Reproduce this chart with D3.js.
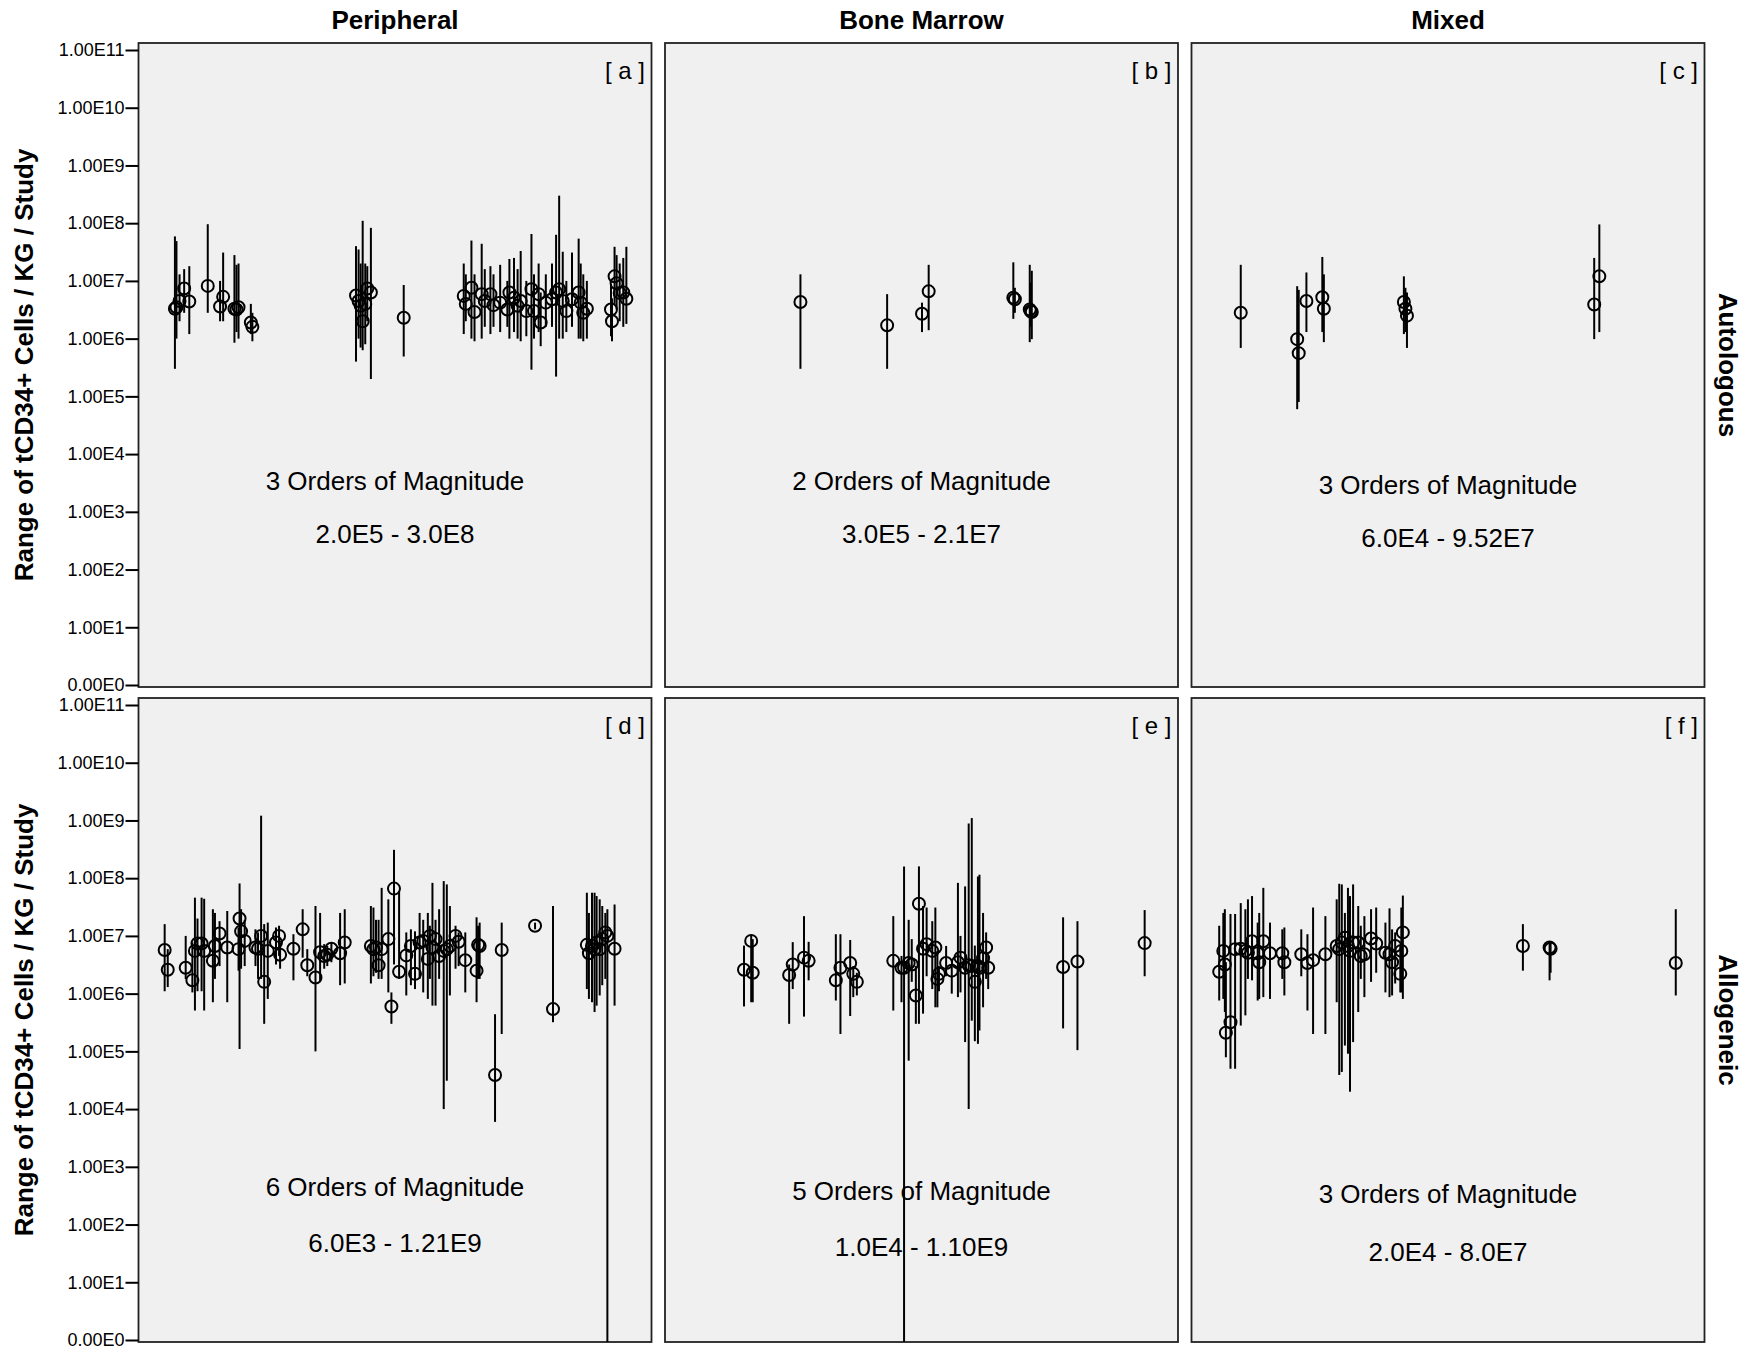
<!DOCTYPE html>
<html>
<head>
<meta charset="utf-8">
<title>Range of tCD34+ cells per kg per study</title>
<script src="https://cdn.jsdelivr.net/npm/d3@7"></script>
<style>
  body { margin: 0; background: #fff; }
  text { font-family: "Liberation Sans", Arial, sans-serif; fill: #000; }
</style>
</head>
<body>
<svg id="chart"></svg>
<script>
// graft source (columns) and transplant type (rows)
const sources = ['Peripheral', 'Bone Marrow', 'Mixed'];
const transplants = ['Autologous', 'Allogeneic'];
const panelTags = ['[ a ]', '[ b ]', '[ c ]', '[ d ]', '[ e ]', '[ f ]'];
const magnitudeNotes = ['3 Orders of Magnitude', '2 Orders of Magnitude', '3 Orders of Magnitude',
  '6 Orders of Magnitude', '5 Orders of Magnitude', '3 Orders of Magnitude'];
const rangeNotes = ['2.0E5 - 3.0E8', '3.0E5 - 2.1E7', '6.0E4 - 9.52E7',
  '6.0E3 - 1.21E9', '1.0E4 - 1.10E9', '2.0E4 - 8.0E7'];
const yTickValues = [1, 1e1, 1e2, 1e3, 1e4, 1e5, 1e6, 1e7, 1e8, 1e9, 1e10, 1e11];
const yTickLabels = ['0.00E0', '1.00E1', '1.00E2', '1.00E3', '1.00E4', '1.00E5',
  '1.00E6', '1.00E7', '1.00E8', '1.00E9', '1.00E10', '1.00E11'];

// each study: [position along panel (0-100), reported dose, minimum, maximum]
const studiesA = [
  [7.1, 3.3e6, 3.0e5, 5.9e7], [7.4, 3.5e6, 1.0e6, 4.9e7], [8.0, 4.5e6, 2.0e6, 1.3e7],
  [8.9, 7.4e6, 2.8e6, 1.6e7], [9.9, 4.4e6, 1.2e6, 1.8e7], [13.5, 8.2e6, 2.8e6, 9.6e7],
  [15.9, 3.6e6, 2.0e6, 1.0e7], [16.5, 5.3e6, 2.0e6, 3.1e7], [18.7, 3.3e6, 8.5e5, 2.8e7],
  [19.1, 3.2e6, 1.3e6, 1.9e7], [19.5, 3.5e6, 1.0e6, 2.0e7], [21.9, 1.9e6, 1.2e6, 4.0e6],
  [22.2, 1.6e6, 9.0e5, 2.8e6], [42.4, 5.6e6, 4.0e5, 4.0e7], [42.9, 4.5e6, 1.0e6, 3.5e7],
  [43.3, 3.7e6, 7.0e5, 2.0e7], [43.7, 2.0e6, 6.3e5, 1.1e8], [44.2, 4.0e6, 8.0e5, 2.0e7],
  [44.6, 7.4e6, 2.0e6, 1.8e7], [45.3, 6.3e6, 2.0e5, 8.3e7], [51.7, 2.3e6, 4.9e5, 8.5e6],
  [63.4, 5.5e6, 1.2e6, 2.0e7], [63.8, 4.0e6, 2.0e6, 1.3e7], [64.9, 7.6e6, 1.0e6, 5.0e7],
  [65.5, 2.9e6, 9.0e5, 1.3e7], [66.9, 5.9e6, 1.0e6, 4.4e7], [67.5, 4.5e6, 1.6e6, 1.6e7],
  [68.6, 5.9e6, 1.2e6, 1.8e7], [69.2, 3.8e6, 1.6e6, 1.3e7], [70.5, 4.2e6, 1.3e6, 1.9e7],
  [71.9, 3.2e6, 1.6e6, 1.0e7], [72.3, 6.3e6, 1.0e6, 2.4e7], [73.2, 5.1e6, 1.3e6, 2.5e7],
  [73.9, 3.7e6, 1.0e6, 1.6e7], [74.5, 4.5e6, 9.0e5, 3.3e7], [75.6, 3.0e6, 1.1e6, 1.0e7],
  [76.6, 7.2e6, 2.9e5, 6.5e7], [77.1, 3.0e6, 1.0e6, 1.3e7], [78.0, 5.9e6, 1.3e6, 2.0e7],
  [78.4, 1.9e6, 7.4e5, 6.3e6], [79.4, 4.2e6, 1.6e6, 1.3e7], [80.6, 4.8e6, 1.6e6, 2.0e7],
  [81.4, 6.3e6, 2.2e5, 6.3e7], [82.0, 7.2e6, 1.0e6, 3.0e8], [82.7, 4.5e6, 1.0e6, 3.2e7],
  [83.4, 3.0e6, 1.3e6, 1.0e7], [84.5, 4.8e6, 1.6e6, 3.1e7], [85.8, 6.3e6, 1.0e6, 5.4e7],
  [86.2, 4.2e6, 1.0e6, 2.0e7], [86.7, 2.8e6, 9.0e5, 1.3e7], [87.4, 3.3e6, 1.0e6, 1.0e7],
  [92.1, 3.2e6, 1.1e6, 8.9e6], [92.3, 2.0e6, 9.0e5, 5.0e6], [92.8, 1.2e7, 4.0e6, 3.9e7],
  [93.2, 9.1e6, 3.2e6, 2.8e7], [93.8, 6.2e6, 2.0e6, 2.0e7], [94.5, 6.3e6, 1.6e6, 2.5e7],
  [95.1, 4.9e6, 1.8e6, 3.9e7]
];
const studiesB = [
  [26.4, 4.3e6, 3.0e5, 1.3e7], [43.3, 1.7e6, 3.0e5, 5.9e6], [50.1, 2.7e6, 1.3e6, 4.2e6],
  [51.4, 6.6e6, 1.4e6, 1.9e7], [67.9, 5.1e6, 2.2e6, 2.1e7], [68.2, 4.8e6, 2.8e6, 7.6e6],
  [71.1, 3.2e6, 8.7e5, 1.9e7], [71.5, 2.9e6, 9.8e5, 1.5e7], [71.3, 3.0e6, 1.6e6, 9.3e6]
];
const studiesC = [
  [9.6, 2.8e6, 6.9e5, 1.9e7], [20.6, 9.8e5, 6.0e4, 8.1e6], [20.9, 5.6e5, 8.0e4, 7.0e6],
  [22.4, 4.5e6, 1.3e6, 1.4e7], [25.5, 5.2e6, 1.3e6, 2.6e7], [25.8, 3.3e6, 8.7e5, 1.3e7],
  [41.4, 4.3e6, 1.2e6, 1.2e7], [41.7, 3.3e6, 1.3e6, 7.6e6], [42.0, 2.5e6, 6.9e5, 6.3e6],
  [78.5, 3.9e6, 9.8e5, 2.5e7], [79.5, 1.2e7, 1.3e6, 9.52e7]
];
const studiesD = [
  [5.1, 5.7e6, 1.1e6, 1.6e7], [5.7, 2.6e6, 1.3e6, 5.9e6], [9.2, 2.8e6, 1.8e6, 1.0e7],
  [10.5, 1.7e6, 1.05e6, 7.7e6], [11.0, 5.5e6, 5.1e5, 4.6e7], [11.5, 7.4e6, 1.1e6, 2.0e7],
  [12.3, 7.4e6, 1.1e6, 4.6e7], [12.8, 5.5e6, 5.1e5, 4.4e7], [14.5, 3.7e6, 7.1e5, 2.9e7],
  [14.9, 6.7e6, 1.8e6, 2.5e7], [15.8, 1.1e7, 3.0e6, 1.8e7], [17.3, 6.3e6, 7.1e5, 2.7e7],
  [19.7, 2.0e7, 1.1e5, 8.1e7], [20.0, 1.2e7, 2.7e6, 2.9e7], [20.7, 8.2e6, 3.0e6, 1.9e7],
  [19.5, 5.9e6, 2.5e6, 1.4e7], [22.8, 6.3e6, 3.0e6, 1.3e7], [23.3, 6.0e6, 1.8e6, 1.15e7],
  [23.9, 1.0e7, 1.8e6, 1.21e9], [24.5, 1.6e6, 3.0e5, 1.6e7], [25.2, 5.5e6, 8.1e5, 1.7e7],
  [26.8, 7.7e6, 3.2e6, 1.4e7], [27.4, 1.0e7, 4.5e6, 1.5e7], [27.6, 4.7e6, 2.7e6, 7.7e6],
  [30.2, 6.0e6, 1.7e6, 1.07e7], [32.0, 1.3e7, 4.2e6, 2.9e7], [32.9, 3.1e6, 2.0e6, 5.9e6],
  [34.5, 1.9e6, 1.0e5, 3.3e7], [35.4, 5.2e6, 1.6e6, 2.5e7], [36.2, 4.5e6, 2.7e6, 7.2e6],
  [36.8, 4.7e6, 3.0e6, 6.7e6], [37.6, 6.0e6, 3.5e6, 7.7e6], [39.3, 5.0e6, 1.4e6, 2.5e7],
  [40.2, 7.7e6, 1.5e6, 2.9e7], [45.3, 6.7e6, 1.5e6, 3.3e7], [45.8, 5.9e6, 2.0e6, 3.1e7],
  [46.3, 6.3e6, 2.3e6, 1.9e7], [46.8, 3.1e6, 1.8e6, 1.9e7], [47.4, 5.9e6, 1.8e6, 6.8e7],
  [48.7, 8.8e6, 1.05e6, 4.3e7], [49.3, 6.0e5, 3.0e5, 1.05e6], [49.8, 6.6e7, 3.2e6, 3.1e8],
  [50.8, 2.4e6, 1.8e6, 6.0e7], [52.2, 4.6e6, 9.3e5, 1.15e7], [53.1, 6.7e6, 1.4e6, 1.3e7],
  [53.9, 2.2e6, 1.2e6, 1.2e7], [54.8, 7.7e6, 1.8e6, 2.5e7], [55.5, 8.2e6, 1.05e6, 1.9e7],
  [56.4, 4.0e6, 8.1e5, 2.5e7], [56.8, 1.0e7, 1.8e6, 1.5e7], [57.3, 6.3e6, 6.2e5, 8.3e7],
  [57.9, 8.8e6, 6.2e5, 1.9e7], [58.6, 4.5e6, 1.8e6, 2.9e7], [59.5, 5.5e6, 1.0e4, 8.9e7],
  [60.1, 5.9e6, 3.1e4, 7.8e7], [60.7, 6.7e6, 9.3e5, 3.3e7], [61.8, 1.0e7, 2.7e6, 1.5e7],
  [62.4, 7.9e6, 3.0e6, 1.15e7], [63.7, 3.8e6, 1.05e6, 1.15e7], [65.9, 2.5e6, 7.1e5, 2.1e7],
  [66.2, 7.0e6, 1.8e6, 1.5e7], [66.5, 6.7e6, 1.8e6, 1.7e7], [69.5, 3.9e4, 6.0e3, 4.4e5],
  [70.8, 5.7e6, 2.0e5, 1.7e7], [77.3, 1.5e7, 1.3e7, 1.7e7], [80.8, 5.4e5, 3.2e5, 3.3e7],
  [87.4, 7.0e6, 1.2e6, 5.6e7], [87.8, 5.0e6, 8.1e5, 2.5e7], [88.4, 6.7e6, 7.1e5, 5.6e7],
  [88.9, 5.9e6, 4.8e5, 5.6e7], [89.3, 7.7e6, 6.2e5, 4.9e7], [89.9, 5.9e6, 9.3e5, 4.3e7],
  [90.4, 8.8e6, 1.4e6, 3.3e7], [91.0, 1.15e7, 1.8e6, 2.5e7], [91.4, 1.0e7, 0, 2.9e7],
  [92.8, 6.0e6, 6.2e5, 3.5e7]
];
const studiesE = [
  [15.4, 2.6e6, 6.0e5, 6.8e6], [16.8, 8.2e6, 7.1e5, 1.0e7], [17.1, 2.3e6, 7.1e5, 8.8e6],
  [24.2, 2.1e6, 3.0e5, 3.2e6], [24.9, 3.2e6, 1.2e6, 7.8e6], [27.1, 4.2e6, 4.0e5, 2.2e7],
  [28.0, 3.7e6, 1.7e6, 7.9e6], [33.3, 1.7e6, 7.6e5, 1.07e7], [34.2, 2.8e6, 2.0e5, 1.07e7],
  [36.1, 3.4e6, 4.1e5, 8.5e6], [36.7, 2.2e6, 8.7e5, 3.0e6], [37.4, 1.6e6, 9.3e5, 2.3e6],
  [44.5, 3.7e6, 5.1e5, 2.2e7], [46.1, 2.8e6, 7.1e5, 4.5e6], [46.6, 2.8e6, 0, 1.6e8],
  [47.5, 3.4e6, 6.9e4, 1.9e7], [48.1, 3.2e6, 1.6e6, 8.8e6], [48.9, 9.3e5, 3.0e5, 3.0e6],
  [49.5, 3.6e7, 3.0e5, 1.6e8], [50.3, 6.0e6, 4.5e5, 3.3e7], [51.0, 7.2e6, 2.0e6, 3.1e7],
  [52.1, 5.5e6, 1.2e6, 1.8e7], [52.7, 6.3e6, 5.8e5, 3.1e7], [53.1, 1.8e6, 5.8e5, 5.5e6],
  [53.4, 2.2e6, 1.1e6, 3.0e6], [54.8, 3.4e6, 2.0e6, 6.7e6], [55.9, 2.5e6, 1.0e6, 3.0e6],
  [57.1, 3.5e6, 8.7e5, 8.3e7], [57.6, 4.2e6, 1.05e6, 1.0e7], [58.5, 2.8e6, 1.45e5, 7.2e7],
  [59.2, 3.1e6, 1.0e4, 8.9e8], [59.8, 3.0e6, 3.4e5, 1.1e9], [60.4, 1.6e6, 1.5e5, 6.8e6],
  [61.0, 3.0e6, 1.35e5, 1.07e8], [61.3, 2.8e6, 2.3e5, 1.15e8], [62.0, 4.1e6, 5.8e5, 2.5e7],
  [62.6, 6.3e6, 1.8e6, 1.15e7], [63.0, 2.8e6, 1.2e6, 4.5e6], [77.6, 2.9e6, 2.5e5, 2.1e7],
  [80.4, 3.6e6, 1.05e5, 1.8e7], [93.5, 7.5e6, 2.0e6, 2.8e7]
];
const studiesF = [
  [5.4, 2.4e6, 7.6e5, 1.5e7], [6.2, 5.5e6, 8.1e5, 2.5e7], [6.5, 3.2e6, 4.8e5, 2.9e7],
  [6.7, 2.1e5, 7.9e4, 3.5e6], [7.6, 3.2e5, 5.0e4, 2.4e7], [8.5, 5.9e6, 5.0e4, 2.4e7],
  [9.6, 6.0e6, 2.8e5, 3.7e7], [10.5, 5.5e6, 4.2e5, 2.9e7], [11.0, 5.1e6, 1.8e6, 4.3e7],
  [11.8, 8.1e6, 1.7e6, 4.9e7], [12.9, 5.0e6, 7.6e5, 1.7e7], [13.2, 3.5e6, 8.1e5, 2.5e7],
  [14.0, 8.1e6, 8.7e5, 6.8e7], [15.3, 5.0e6, 8.1e5, 1.7e7], [17.7, 5.0e6, 1.8e6, 1.3e7],
  [18.1, 3.5e6, 9.3e5, 1.4e7], [21.4, 4.8e6, 2.0e6, 1.3e7], [22.6, 3.4e6, 5.1e5, 1.07e7],
  [23.7, 3.8e6, 2.0e5, 3.1e7], [26.1, 4.8e6, 2.0e5, 2.2e7], [28.3, 6.7e6, 7.1e5, 4.3e7],
  [28.8, 5.9e6, 3.9e4, 8.0e7], [29.3, 7.7e6, 4.4e4, 7.8e7], [29.9, 9.3e6, 1.26e5, 2.5e7],
  [30.5, 6.7e6, 9.1e4, 6.8e7], [30.9, 5.5e6, 2.0e4, 4.9e7], [31.5, 7.7e6, 1.45e5, 7.8e7],
  [32.5, 7.7e6, 4.8e5, 3.3e7], [33.0, 4.5e6, 1.8e6, 1.5e7], [33.7, 4.8e6, 8.7e5, 2.2e7],
  [35.0, 9.0e6, 1.6e6, 2.9e7], [36.0, 7.4e6, 2.3e6, 3.1e7], [37.8, 5.1e6, 1.05e6, 1.7e7],
  [38.6, 4.8e6, 8.7e5, 3.0e7], [39.1, 3.5e6, 9.3e5, 1.3e7], [39.7, 6.7e6, 1.5e6, 1.15e7],
  [40.7, 2.2e6, 1.05e6, 6.7e6], [40.9, 5.5e6, 1.05e6, 3.1e7], [41.2, 1.15e7, 8.1e5, 5.0e7],
  [64.6, 6.7e6, 2.5e6, 1.6e7], [69.8, 6.3e6, 1.7e6, 7.9e6], [70.0, 6.0e6, 2.3e6, 7.7e6],
  [94.4, 3.4e6, 9.3e5, 2.9e7]
];
const panelStudies = [studiesA, studiesB, studiesC, studiesD, studiesE, studiesF];

// layout
const W = 1754, H = 1357;
const colX = [138.5, 665, 1191.5];
const rowY = [43, 698];
const pw = 513, ph = 644;
// vertical centres of the two note lines, measured from the panel top
const notePos = [[438, 491], [438, 491], [442, 495], [489, 545], [493, 549], [496, 554]];

const svg = d3.select('#chart')
  .attr('width', W)
  .attr('height', H);

const x = d3.scaleLinear().domain([0, 100]).range([0, pw]);
const y = d3.scaleLog().domain([1, 1e11]).range([ph - 2, 7]);

const yAxis = d3.axisLeft(y)
  .tickValues(yTickValues)
  .tickFormat((d, i) => yTickLabels[i])
  .tickSize(13)
  .tickPadding(1);

// column headers
svg.selectAll('text.col-head')
  .data(sources)
  .join('text')
  .attr('class', 'col-head')
  .attr('x', (d, i) => colX[i] + pw / 2)
  .attr('y', 29)
  .attr('text-anchor', 'middle')
  .style('font-size', '26px')
  .style('font-weight', 'bold')
  .text(d => d);

// row labels on the right
svg.selectAll('text.row-head')
  .data(transplants)
  .join('text')
  .attr('class', 'row-head')
  .attr('transform', (d, i) => `translate(1719,${rowY[i] + ph / 2}) rotate(90)`)
  .attr('text-anchor', 'middle')
  .style('font-size', '26px')
  .style('font-weight', 'bold')
  .text(d => d);

// y axis titles, one per row
transplants.forEach((t, r) => {
  svg.append('text')
    .attr('transform', `translate(33,${rowY[r] + ph / 2}) rotate(-90)`)
    .attr('text-anchor', 'middle')
    .style('font-size', '26px')
    .style('font-weight', 'bold')
    .text('Range of tCD34+ Cells / KG / Study');
});

panelStudies.forEach((rows, i) => {
  const r = Math.floor(i / 3);
  const c = i % 3;
  const g = svg.append('g')
    .attr('transform', `translate(${colX[c]},${rowY[r]})`);

  g.append('rect')
    .attr('width', pw)
    .attr('height', ph)
    .style('fill', '#f0f0f0')
    .style('stroke', '#222')
    .style('stroke-width', 1.8);

  if (c === 0) {
    const ax = g.append('g').call(yAxis);
    ax.select('.domain').remove();
    ax.selectAll('line').style('stroke', '#000').style('stroke-width', 2);
    ax.selectAll('text')
      .style('font-size', '18px')
      .style('font-family', '"Liberation Sans", Arial, sans-serif');
  }

  // range whiskers
  g.selectAll('line.range')
    .data(rows)
    .join('line')
    .attr('class', 'range')
    .attr('x1', d => x(d[0]))
    .attr('x2', d => x(d[0]))
    .attr('y1', d => y(d[3]))
    .attr('y2', d => d[2] > 0 ? y(d[2]) : ph)
    .style('stroke', '#000')
    .style('stroke-width', 2);

  // reported dose markers
  g.selectAll('circle.dose')
    .data(rows)
    .join('circle')
    .attr('class', 'dose')
    .attr('cx', d => x(d[0]))
    .attr('cy', d => y(d[1]))
    .attr('r', 6)
    .style('fill', 'none')
    .style('stroke', '#000')
    .style('stroke-width', 2);

  g.append('text')
    .attr('x', pw - 6.5)
    .attr('y', 36)
    .attr('text-anchor', 'end')
    .style('font-size', '24px')
    .text(panelTags[i]);

  g.append('text')
    .attr('x', pw / 2)
    .attr('y', notePos[i][0] + 9)
    .attr('text-anchor', 'middle')
    .style('font-size', '26px')
    .text(magnitudeNotes[i]);

  g.append('text')
    .attr('x', pw / 2)
    .attr('y', notePos[i][1] + 9)
    .attr('text-anchor', 'middle')
    .style('font-size', '26px')
    .text(rangeNotes[i]);
});
</script>
</body>
</html>
